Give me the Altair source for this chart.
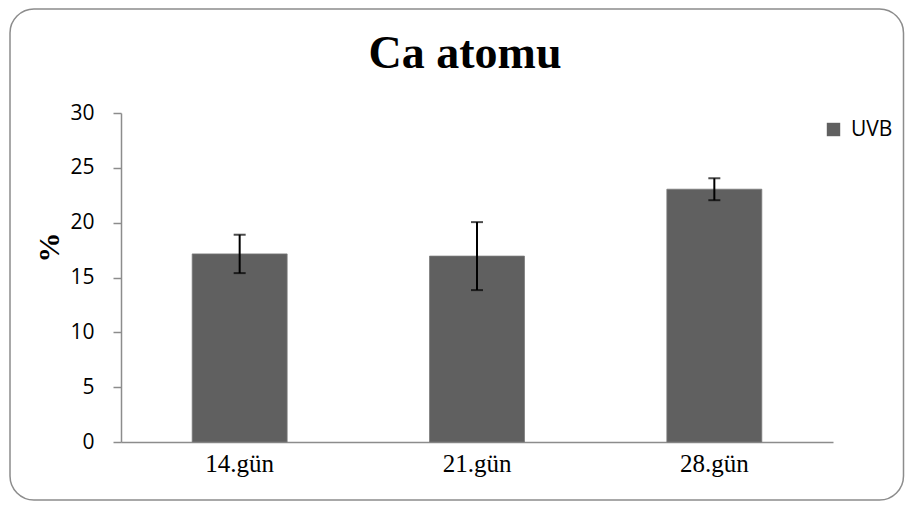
import altair as alt
import pandas as pd

days = ["14.gün", "21.gün", "28.gün"]
values = [17.15, 16.95, 23.05]
errors = [1.75, 3.1, 1.0]
series = ["UVB", "UVB", "UVB"]
y_ticks = [0, 5, 10, 15, 20, 25, 30]
chart_title = "Ca atomu"

df = pd.DataFrame({
    "day": days,
    "value": values,
    "err": errors,
    "series": series,
})
df["lo"] = df["value"] - df["err"]
df["hi"] = df["value"] + df["err"]

x_enc = alt.X(
    "day:N",
    sort=days,
    title=None,
    scale=alt.Scale(paddingInner=0.6, paddingOuter=0.3),
    axis=alt.Axis(
        labelAngle=0,
        labelFont="Liberation Serif",
        labelFontSize=25,
        labelColor="black",
        labelPadding=9,
        ticks=False,
        domainColor="#8c8c8c",
        domainWidth=1.5,
    ),
)
y_scale = alt.Scale(domain=[0, 30], nice=False, zero=True)

base = alt.Chart(df)

bars = base.mark_bar(stroke="#7a7a7a", strokeWidth=0.8).encode(
    x=x_enc,
    y=alt.Y(
        "value:Q",
        scale=y_scale,
        title="%",
        axis=alt.Axis(
            values=y_ticks,
            grid=False,
            labelFont="Open Sans",
            labelFontSize=21,
            labelColor="black",
            labelPadding=19,
            tickSize=8,
            tickColor="#8c8c8c",
            tickWidth=1.5,
            domainColor="#8c8c8c",
            domainWidth=1.5,
            titleFont="Liberation Serif",
            titleFontWeight="bold",
            titleFontSize=30,
            titleColor="black",
            titleAngle=270,
            titleAlign="center",
            titleBaseline="middle",
            titleX=-72,
            titleY=134,
        ),
    ),
    color=alt.Color(
        "series:N",
        scale=alt.Scale(domain=["UVB"], range=["#606060"]),
        legend=alt.Legend(
            title=None,
            orient="none",
            legendX=702,
            legendY=6,
            symbolType="square",
            symbolSize=180,
            symbolStrokeWidth=0,
            labelFont="Open Sans",
            labelFontSize=21,
            labelColor="black",
            labelOffset=7,
            padding=0,
        ),
    ),
)

rules = base.mark_rule(color="black", strokeWidth=2).encode(
    x=alt.X("day:N", sort=days),
    y=alt.Y("lo:Q", scale=y_scale),
    y2="hi:Q",
)
cap_lo = base.mark_tick(color="black", thickness=2, size=12, orient="horizontal").encode(
    x=alt.X("day:N", sort=days),
    y=alt.Y("lo:Q", scale=y_scale),
)
cap_hi = base.mark_tick(color="black", thickness=2, size=12, orient="horizontal").encode(
    x=alt.X("day:N", sort=days),
    y=alt.Y("hi:Q", scale=y_scale),
)

border = alt.Chart(alt.Data(values=[{"k": 1}])).mark_rect(
    fill=None, stroke="#8c8c8c", strokeWidth=1.5, cornerRadius=24
).encode(
    x=alt.value(-111),
    x2=alt.value(782.5),
    y=alt.value(-104),
    y2=alt.value(387),
)

title = alt.Chart(alt.Data(values=[{"t": chart_title}])).mark_text(
    font="Liberation Serif",
    fontSize=46,
    fontWeight="bold",
    color="black",
    align="center",
    baseline="alphabetic",
).encode(
    text="t:N",
    x=alt.value(344),
    y=alt.value(-45),
)

chart = alt.layer(border, bars, rules, cap_lo, cap_hi, title).properties(
    width=712,
    height=329,
    autosize=alt.AutoSizeParams(type="none"),
    padding={"left": 113, "top": 105, "right": 72, "bottom": 59},
).configure_view(stroke=None)

chart.save("out.html", embed_options={"renderer": "svg", "actions": False})
